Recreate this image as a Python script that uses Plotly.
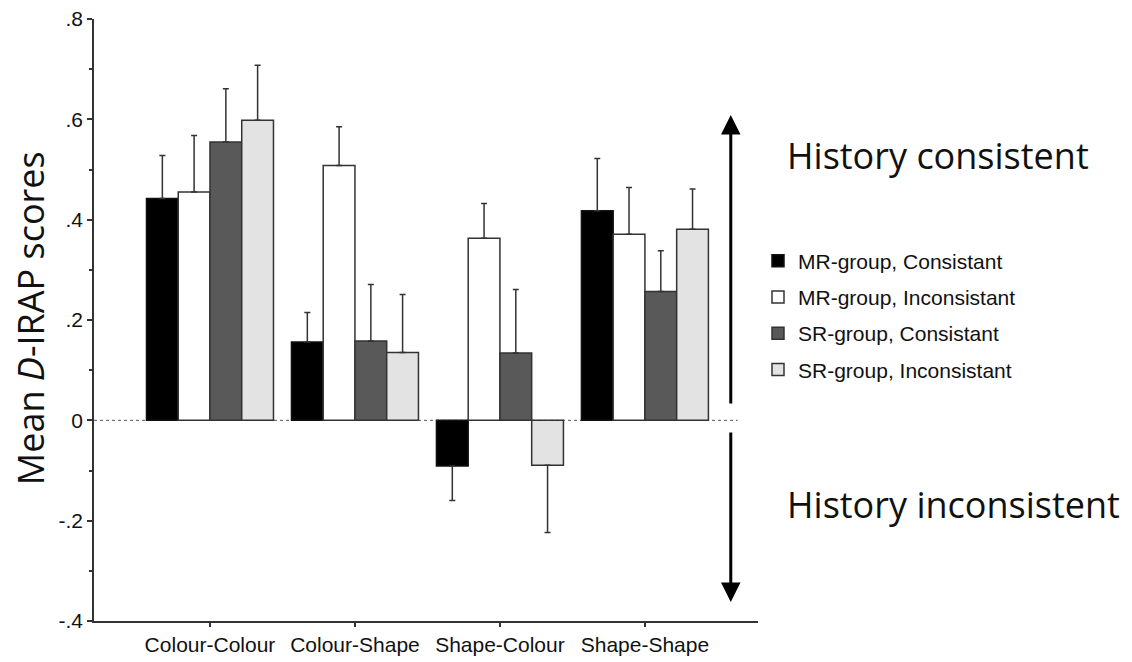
import plotly.graph_objects as go

categories = ["Colour-Colour", "Colour-Shape", "Shape-Colour", "Shape-Shape"]
series_names = ["MR-group, Consistant", "MR-group, Inconsistant",
                "SR-group, Consistant", "SR-group, Inconsistant"]
mr_consistent = [0.442, 0.156, -0.091, 0.418]
mr_consistent_err = [0.086, 0.059, 0.069, 0.104]
mr_inconsistent = [0.455, 0.508, 0.363, 0.371]
mr_inconsistent_err = [0.113, 0.077, 0.069, 0.093]
sr_consistent = [0.555, 0.158, 0.134, 0.257]
sr_consistent_err = [0.106, 0.113, 0.127, 0.081]
sr_inconsistent = [0.598, 0.135, -0.0895, 0.381]
sr_inconsistent_err = [0.110, 0.116, 0.134, 0.080]

y_tickvals = [0.8, 0.6, 0.4, 0.2, 0.0, -0.2, -0.4]
y_ticktext = [".8", ".6", ".4", ".2", "0", "-.2", "-.4"]

values = [mr_consistent, mr_inconsistent, sr_consistent, sr_inconsistent]
errors = [mr_consistent_err, mr_inconsistent_err, sr_consistent_err, sr_inconsistent_err]
fills = ["#000000", "#ffffff", "#595959", "#e3e3e3"]
outlines = ["#111111", "#333333", "#333333", "#333333"]

ARIAL = "Liberation Sans, Arial, sans-serif"
SANS = "Open Sans, Noto Sans, sans-serif"

xpos = list(range(len(categories)))

fig = go.Figure()
for name, vals, errs, fc, lc in zip(series_names, values, errors, fills, outlines):
    plus = [e if v >= 0 else 0 for v, e in zip(vals, errs)]
    minus = [0 if v >= 0 else e for v, e in zip(vals, errs)]
    fig.add_trace(go.Bar(
        x=xpos, y=vals, name=name, legendgroup=name,
        marker=dict(color=fc, line=dict(color=lc, width=1.5)),
        error_y=dict(type="data", symmetric=False, array=plus, arrayminus=minus,
                     color="#333333", thickness=1.5, width=3),
    ))

fig.add_shape(type="line", xref="x", yref="y", x0=-0.8, x1=3.64, y0=0, y1=0,
              line=dict(color="#555555", width=1, dash="dot"), layer="below")

fig.update_layout(
    width=1132, height=662,
    margin=dict(l=86, r=382, t=11, b=49, pad=0, autoexpand=False),
    paper_bgcolor="white", plot_bgcolor="white",
    barmode="group", bargap=0.124, bargroupgap=0,
    showlegend=True,
    legend=dict(x=1.0, y=0.632, xanchor="left", yanchor="top",
                font=dict(family=ARIAL, size=21, color="#111111"),
                tracegroupgap=6, bgcolor="rgba(0,0,0,0)"),
    xaxis=dict(range=[-0.8, 3.78], tickvals=xpos, ticktext=categories,
               tickangle=0, automargin=False, ticklabeloverflow="allow",
               showline=True, linecolor="#333333", linewidth=1.5,
               ticks="outside", ticklen=4, tickcolor="#333333", tickwidth=1.5,
               showgrid=False, zeroline=False,
               tickfont=dict(family=ARIAL, size=21, color="#111111")),
    yaxis=dict(range=[-0.4, 0.8], tickvals=y_tickvals, ticktext=y_ticktext,
               automargin=False, ticklabeloverflow="allow",
               showline=True, linecolor="#333333", linewidth=1.5,
               ticks="outside", ticklen=5, tickcolor="#333333", tickwidth=1.5,
               minor=dict(ticks="outside", ticklen=3, dtick=0.1, tickcolor="#333333",
                          tickwidth=1.5, showgrid=False),
               showgrid=False, zeroline=False,
               tickfont=dict(family=ARIAL, size=21, color="#111111")),
)

fig.add_annotation(xref="paper", yref="paper", x=-0.0964, y=0.503,
                   text="Mean <i>D</i>-IRAP scores", textangle=-90, showarrow=False,
                   font=dict(family=SANS, size=36, color="#111111"),
                   xanchor="center", yanchor="middle")
fig.add_annotation(xref="paper", yref="paper", x=1.040, y=0.774,
                   text="History consistent", showarrow=False,
                   font=dict(family=SANS, size=36, color="#111111"),
                   xanchor="left", yanchor="middle")
fig.add_annotation(xref="paper", yref="paper", x=1.040, y=0.193,
                   text="History inconsistent", showarrow=False,
                   font=dict(family=SANS, size=36, color="#111111"),
                   xanchor="left", yanchor="middle")
# indicator arrows
fig.add_annotation(xref="paper", yref="paper", x=0.959, y=0.8405, text="",
                   showarrow=True, axref="pixel", ayref="pixel", ax=0, ay=290,
                   arrowhead=2, arrowsize=1.3, arrowwidth=3, arrowcolor="#000000",
                   standoff=0)
fig.add_annotation(xref="paper", yref="paper", x=0.959, y=0.0316, text="",
                   showarrow=True, axref="pixel", ayref="pixel", ax=0, ay=-171,
                   arrowhead=2, arrowsize=1.3, arrowwidth=3, arrowcolor="#000000",
                   standoff=0)

fig.write_html("out.html")
